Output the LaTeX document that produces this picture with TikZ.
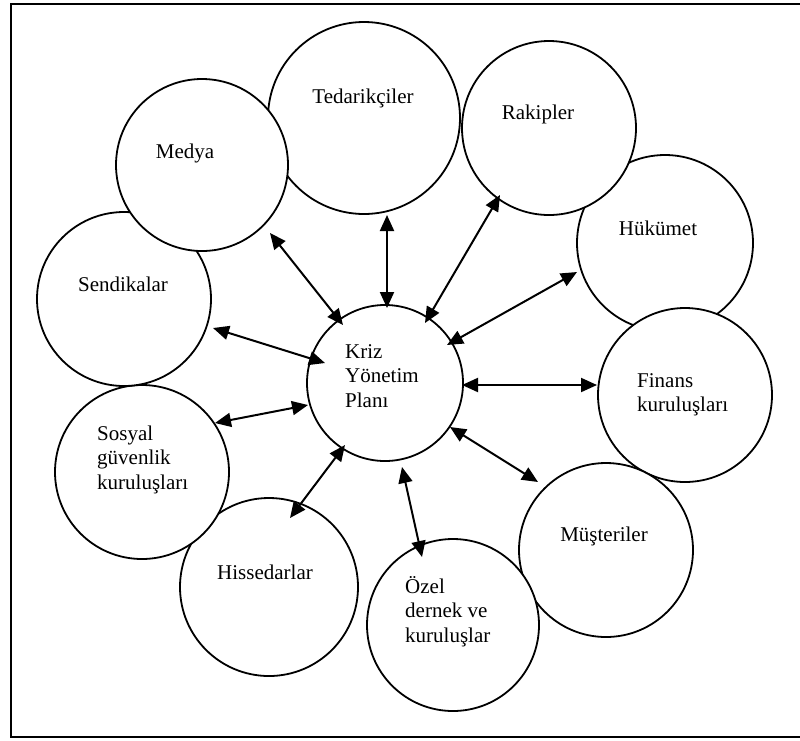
\documentclass[tikz,border=0pt]{standalone}
\usepackage{fontspec}
\setmainfont{Liberation Serif}
\usetikzlibrary{arrows.meta,calc}
\newcommand\stacklines[1]{\vtop{\baselineskip=24.5pt\lineskiplimit=-20pt\halign{##\hfil\cr#1\crcr}}}
\tikzset{
  bubble/.style={circle,draw=black,line width=1.8pt,fill=white,inner sep=0pt},
  lbl/.style={inner sep=0pt,font=\fontsize{21}{24.5}\selectfont},
  biarrow/.style={line width=2pt,{Triangle[length=16pt,width=14pt]}-{Triangle[length=16pt,width=14pt]}},
  frameline/.style={line width=1.8pt}
}
\begin{document}
\begin{tikzpicture}[x=1pt,y=-1pt]
\useasboundingbox (0,0) rectangle (800,740);
\draw[frameline] (800,4) -- (11,4) -- (11,737) -- (800,737);
% circles
\node[bubble,minimum size=176pt] (huk) at (665,243) {};
\node[bubble,minimum size=174pt] (fin) at (685,395) {};
\node[bubble,minimum size=174pt] (mus) at (606,550) {};
\node[bubble,minimum size=172pt] (ozel) at (453,625) {};
\node[bubble,minimum size=178pt] (hiss) at (269,587) {};
\node[bubble,minimum size=174pt] (sos) at (142,472) {};
\node[bubble,minimum size=174pt] (send) at (124,299) {};
\node[bubble,minimum size=192pt] (ted) at (364,118) {};
\node[bubble,minimum size=174pt] (rak) at (549,128) {};
\node[bubble,minimum size=172pt] (medya) at (202,165) {};
\node[bubble,minimum size=156pt] (kriz) at (385,383) {};
% labels
\node[lbl,anchor=base] (tmedya) at (185,158) {Medya};
\node[lbl,anchor=base] (tted) at (363,103) {Tedarikçiler};
\node[lbl,anchor=base] (trak) at (538,119) {Rakipler};
\node[lbl,anchor=base] (thuk) at (658,235) {Hükümet};
\node[lbl,anchor=base] (tsend) at (123,291) {Sendikalar};
\node[lbl,anchor=base west] (tkriz) at (345,358) {\stacklines{Kriz\cr Yönetim\cr Planı}};
\node[lbl,anchor=base west] (tsos) at (97,440) {\stacklines{Sosyal\cr güvenlik\cr kuruluşları}};
\node[lbl,anchor=base] (thiss) at (265,579) {Hissedarlar};
\node[lbl,anchor=base west] (tozel) at (405,593) {\stacklines{Özel\cr dernek ve\cr kuruluşlar}};
\node[lbl,anchor=base] (tmus) at (604,541) {Müşteriler};
\node[lbl,anchor=base west] (tfin) at (637,387) {\stacklines{Finans\cr kuruluşları}};
% connectors
\draw[biarrow] ($(medya)+(68,68)$) -- ($(kriz)+(-42,-58)$);
\draw[biarrow] ($(ted)+(23,97)$) -- ($(kriz)+(2,-75)$);
\draw[biarrow] ($(rak)+(-49,67)$) -- ($(kriz)+(40,-60)$);
\draw[biarrow] ($(huk)+(-88,29)$) -- ($(kriz)+(62,-38)$);
\draw[biarrow] ($(send)+(89,29)$) -- ($(kriz)+(-60,-20)$);
\draw[biarrow] ($(fin)+(-88,-10)$) -- ($(kriz)+(77,2)$);
\draw[biarrow] ($(sos)+(73,-49)$) -- ($(kriz)+(-77,22)$);
\draw[biarrow] ($(hiss)+(21,-69)$) -- ($(kriz)+(-40,62)$);
\draw[biarrow] ($(ozel)+(-31,-68)$) -- ($(kriz)+(17,84)$);
\draw[biarrow] ($(mus)+(-68,-68)$) -- ($(kriz)+(65,44)$);
\end{tikzpicture}
\end{document}
